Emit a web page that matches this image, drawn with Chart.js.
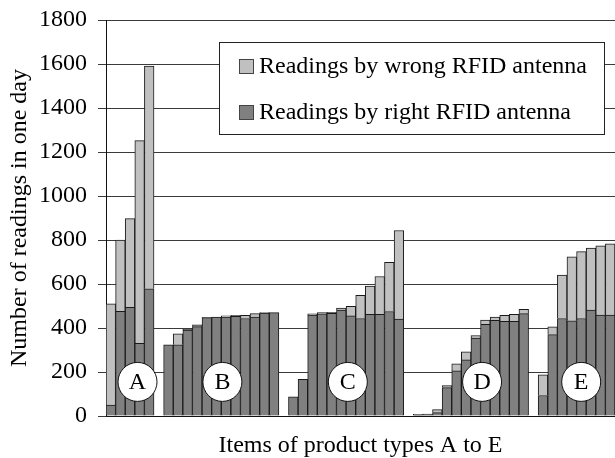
<!DOCTYPE html>
<html>
<head>
<meta charset="utf-8">
<script src="https://cdn.jsdelivr.net/npm/chart.js@4/dist/chart.umd.min.js"></script>
<style>
    html, body { margin: 0; padding: 0; background: #fff; overflow: hidden; }
    #wrap { width: 615px; height: 458px; position: relative; }
</style>
</head>
<body>
<div id="wrap"><canvas id="rfidChart"></canvas></div>
<script>
const groupNames = ['A', 'B', 'C', 'D', 'E'];

// readings by the right antenna (bottom part of each bar)
const rightA = [50, 476, 494, 330, 578];
const rightB = [324, 324, 390, 406, 447, 450, 450, 453, 443, 450, 468, 470];
const rightC = [87, 167, 459, 464, 467, 482, 455, 443, 462, 462, 475, 441];
const rightD = [5, 7, 15, 129, 205, 255, 354, 417, 435, 430, 430, 465];
const rightE = [93, 370, 443, 433, 443, 481, 459, 459];

// readings by a wrong antenna (stacked on top)
const wrongA = [460, 324, 403, 922, 1013];
const wrongB = [0, 50, 4, 8, 2, 0, 5, 5, 15, 15, 2, 0];
const wrongC = [0, 0, 5, 6, 4, 9, 44, 105, 128, 172, 223, 402];
const wrongD = [3, 2, 14, 9, 32, 37, 12, 19, 15, 28, 32, 20];
const wrongE = [94, 35, 197, 291, 304, 282, 315, 324];

const yTicks = [0, 200, 400, 600, 800, 1000, 1200, 1400, 1600, 1800];

const rightGroups = [rightA, rightB, rightC, rightD, rightE];
const wrongGroups = [wrongA, wrongB, wrongC, wrongD, wrongE];

// build one long category axis, with an empty slot between groups
const labels = [];
const rightData = [];
const wrongData = [];
const groupStart = [];
groupNames.forEach((name, g) => {
    if (g > 0) {
        labels.push('');
        rightData.push(null);
        wrongData.push(null);
    }
    groupStart.push(labels.length);
    rightGroups[g].forEach((v, i) => {
        labels.push(name + (i + 1));
        rightData.push(v);
        wrongData.push(wrongGroups[g][i]);
    });
});

const serif = "'Liberation Serif', 'Times New Roman', serif";

// white circles with the group letter
const badgePlugin = {
    id: 'badges',
    afterDatasetsDraw(chart, args, opts) {
        const ctx = chart.ctx;
        const x = chart.scales.x;
        const y = chart.scales.y;
        const slot = x.getPixelForValue(1) - x.getPixelForValue(0);
        ctx.save();
        groupNames.forEach((name, g) => {
            const cx = x.getPixelForValue(groupStart[g]) - slot / 2 + opts.offsets[g] * slot;
            const cy = y.getPixelForValue(opts.level);
            ctx.beginPath();
            ctx.arc(cx, cy, opts.radius, 0, Math.PI * 2);
            ctx.fillStyle = '#fff';
            ctx.fill();
            ctx.lineWidth = 1;
            ctx.strokeStyle = '#111';
            ctx.stroke();
            ctx.fillStyle = '#000';
            ctx.font = '24px ' + serif;
            ctx.textAlign = 'center';
            ctx.textBaseline = 'middle';
            ctx.fillText(name, cx, cy + 1);
        });
        ctx.restore();
    }
};

// boxed legend drawn inside the plot
const boxLegendPlugin = {
    id: 'boxLegend',
    afterDatasetsDraw(chart, args, opts) {
        const ctx = chart.ctx;
        const b = opts.box;
        ctx.save();
        ctx.fillStyle = '#fff';
        ctx.fillRect(b.x, b.y, b.w, b.h);
        ctx.strokeStyle = '#222';
        ctx.lineWidth = 1;
        ctx.strokeRect(b.x + 0.5, b.y + 0.5, b.w, b.h);

        const sets = chart.data.datasets.slice().reverse();
        ctx.font = '24px ' + serif;
        ctx.textBaseline = 'middle';
        ctx.textAlign = 'left';
        sets.forEach((ds, i) => {
            const rowY = b.y + opts.firstRow + i * opts.rowGap;
            ctx.fillStyle = ds.backgroundColor;
            ctx.fillRect(b.x + 20, rowY - 7, 15, 15);
            ctx.strokeStyle = '#444';
            ctx.strokeRect(b.x + 20.5, rowY - 6.5, 14, 14);
            ctx.fillStyle = '#000';
            ctx.fillText(ds.label, b.x + 40, rowY + 1);
        });
        ctx.restore();
    }
};

new Chart(document.getElementById('rfidChart'), {
    type: 'bar',
    data: {
        labels: labels,
        datasets: [{
            label: 'Readings by right RFID antenna',
            data: rightData,
            backgroundColor: '#808080',
            borderColor: '#1a1a1a',
            borderWidth: 1,
            categoryPercentage: 1,
            barPercentage: 1
        }, {
            label: 'Readings by wrong RFID antenna',
            data: wrongData,
            backgroundColor: '#c0c0c0',
            borderColor: '#1a1a1a',
            borderWidth: 1,
            categoryPercentage: 1,
            barPercentage: 1
        }]
    },
    options: {
        responsive: true,
        maintainAspectRatio: false,
        animation: false,
        layout: { padding: { top: 20, right: 0, left: 0, bottom: 0 } },
        scales: {
            x: {
                stacked: true,
                ticks: { display: false },
                grid: { display: false },
                border: { display: true, color: '#111', width: 1 },
                title: {
                    display: true,
                    text: 'Items of product types A to E',
                    color: '#000',
                    font: { family: serif, size: 24, lineHeight: 1 },
                    padding: { top: 0, bottom: 0 }
                },
                afterFit(scale) { scale.height = 42; }
            },
            y: {
                stacked: true,
                min: 0,
                max: 1800,
                afterBuildTicks(scale) { scale.ticks = yTicks.map(v => ({ value: v })); },
                ticks: {
                    color: '#000',
                    padding: 11,
                    font: { family: serif, size: 24 },
                    callback: v => String(v)
                },
                grid: { color: '#3a3a3a', lineWidth: 1, tickLength: 8 },
                border: { display: true, color: '#111', width: 1 },
                title: {
                    display: true,
                    text: 'Number of readings in one day',
                    color: '#000',
                    font: { family: serif, size: 24, lineHeight: 1 },
                    padding: { top: 8, bottom: 0 }
                },
                afterFit(scale) {
                    scale.width = 106;
                    scale.paddingTop = 0;
                    scale.paddingBottom = 0;
                }
            }
        },
        plugins: {
            legend: { display: false },
            tooltip: { enabled: false },
            badges: { offsets: [3.28, 6.12, 6.18, 7.16, 4.48], level: 155, radius: 19.5 },
            boxLegend: { box: { x: 219, y: 42, w: 385, h: 92 }, firstRow: 24, rowGap: 46 }
        }
    },
    plugins: [badgePlugin, boxLegendPlugin]
});
</script>
</body>
</html>
